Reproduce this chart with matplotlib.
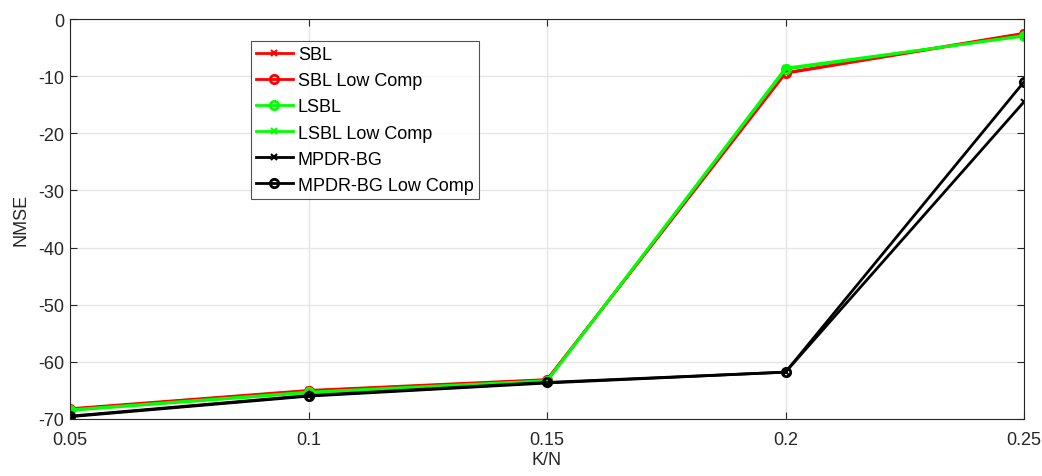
import matplotlib
matplotlib.use("Agg")
import matplotlib.pyplot as plt

plt.rcParams['font.family'] = ['Liberation Sans', 'DejaVu Sans']
plt.rcParams['axes.unicode_minus'] = False

kn = [0.05, 0.1, 0.15, 0.2, 0.25]

sbl = [-68.2, -65.0, -63.1, -9.4, -2.5]
sbl_low = [-68.3, -65.1, -63.2, -9.5, -2.6]
lsbl = [-68.4, -65.3, -63.3, -8.8, -2.9]
lsbl_low = [-68.5, -65.4, -63.4, -8.6, -3.0]
mpdr = [-69.6, -66.0, -63.7, -61.8, -14.5]
mpdr_low = [-69.5, -65.9, -63.6, -61.8, -11.0]

labels = ['SBL', 'SBL Low Comp', 'LSBL', 'LSBL Low Comp', 'MPDR-BG', 'MPDR-BG Low Comp']
series = [sbl, sbl_low, lsbl, lsbl_low, mpdr, mpdr_low]
colors = ['#ff0000', '#ff0000', '#00ff00', '#00ff00', 'k', 'k']
markers = ['x', 'o', 'o', 'x', 'x', 'o']

fig = plt.figure(figsize=(10.42, 4.77), dpi=100)
ax = fig.add_axes([70 / 1042, 57 / 477, (1024 - 70) / 1042, (420 - 20) / 477])

for y, lab, c, m in zip(series, labels, colors, markers):
    ax.plot(kn, y, color=c, marker=m, lw=2, ms=6 if m == 'o' else 5,
            mew=2 if m == 'o' else 1.5, mfc='none', label=lab)

ax.set_xlim(0.05, 0.25)
ax.set_ylim(-70, 0)
ax.set_xticks(kn)
ax.set_xticklabels(['0.05', '0.1', '0.15', '0.2', '0.25'])
ax.set_yticks(range(-70, 1, 10))
ax.grid(True, color='#e6e6e6', lw=1)
ax.set_axisbelow(True)
ax.tick_params(direction='in', labelsize=13, colors='#262626', length=5, width=0.8,
               top=True, right=True)
ax.tick_params(axis='x', pad=9)
ax.tick_params(axis='y', pad=4)
for s in ax.spines.values():
    s.set_color('#262626')
    s.set_linewidth(0.8)

ax.set_xlabel('K/N', fontsize=13, color='#262626', labelpad=2)
ax.set_ylabel('NMSE', fontsize=13, color='#262626', labelpad=6)

leg = ax.legend(loc='upper left', bbox_to_anchor=(181 / 954, 378 / 400), fontsize=13,
                frameon=True, fancybox=False, edgecolor='#262626', handlelength=2.0,
                handletextpad=0.3, borderpad=0.3, labelspacing=0.5, borderaxespad=0)
leg.get_frame().set_linewidth(0.8)

fig.savefig('out.png', dpi=100)
